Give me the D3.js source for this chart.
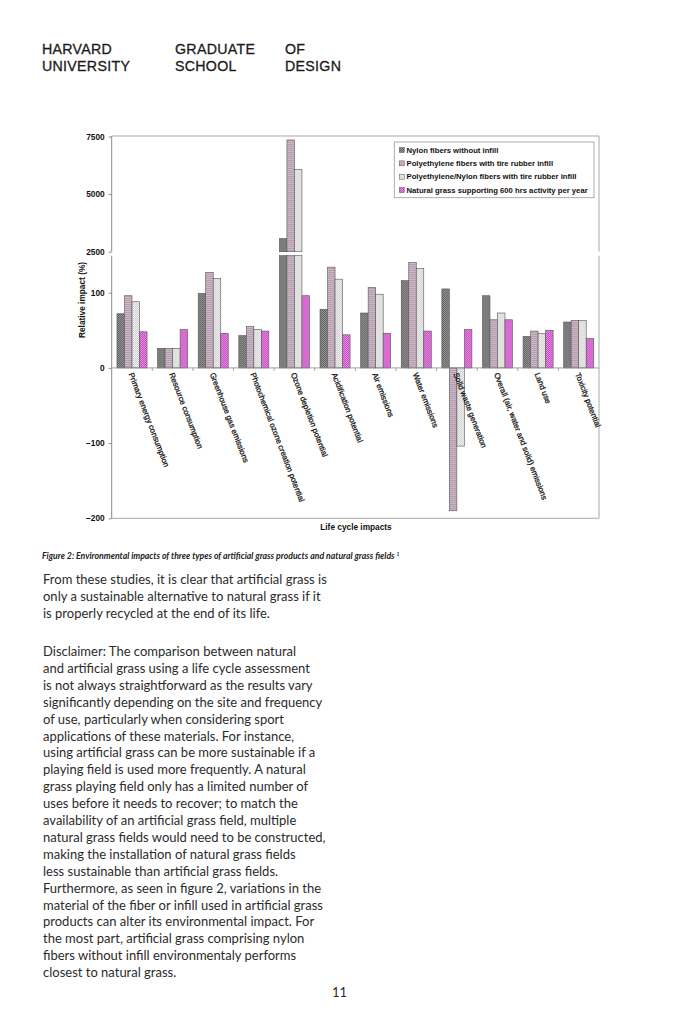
<!DOCTYPE html>
<html>
<head>
<meta charset="utf-8">
<script src="https://cdn.jsdelivr.net/npm/d3@7"></script>
<style>
  html, body { margin: 0; padding: 0; background: #fff; }
  svg { display: block; }
</style>
</head>
<body>
<svg id="page" width="682" height="1023"></svg>
<script>
// ---------------- data ----------------
const categories = [
  "Primary energy consumption",
  "Resource consumption",
  "Greenhouse gas emissions",
  "Photochemical ozone creation potential",
  "Ozone depletion potential",
  "Acidification potential",
  "Air emissions",
  "Water emissions",
  "Solid waste generation",
  "Overall (air, water and solid) emissions",
  "Land use",
  "Toxicity potential"
];
const seriesNames = [
  "Nylon fibers without infill",
  "Polyethylene fibers with tire rubber infill",
  "Polyethylene/Nylon fibers with tire rubber infill",
  "Natural grass supporting 600 hrs activity per year"
];
const nylonValues   = [72, 26, 99, 43, 3070, 78, 73, 116, 105, 96, 42, 61];
const peValues      = [96, 26, 127, 55, 7350, 134, 107, 140, -190, 64, 49, 63];
const peNylonValues = [88, 26, 119, 51, 6070, 118, 98, 132, -104, 73, 46, 63];
const naturalValues = [48, 51, 46, 49, 96, 44, 46, 49, 51, 64, 50, 39];
const lowerTicks = [-200, -100, 0, 100];
const upperTicks = [2500, 5000, 7500];

const headerLines = [
  ["HARVARD", "GRADUATE", "OF"],
  ["UNIVERSITY", "SCHOOL", "DESIGN"]
];
const caption = "Figure 2: Environmental impacts of three types of artificial grass products and natural grass fields";
const para1 = [
  "From these studies, it is clear that artificial grass is",
  "only a sustainable alternative to natural grass if it",
  "is properly recycled at the end of its life."
];
const para2 = [
  "Disclaimer: The comparison between natural",
  "and artificial grass using a life cycle assessment",
  "is not always straightforward as the results vary",
  "significantly depending on the site and frequency",
  "of use, particularly when considering sport",
  "applications of these materials. For instance,",
  "using artificial grass can be more sustainable if a",
  "playing field is used more frequently. A natural",
  "grass playing field only has a limited number of",
  "uses before it needs to recover; to match the",
  "availability of an artificial grass field, multiple",
  "natural grass fields would need to be constructed,",
  "making the installation of natural grass fields",
  "less sustainable than artificial grass fields.",
  "Furthermore, as seen in figure 2, variations in the",
  "material of the fiber or infill used in artificial grass",
  "products can alter its environmental impact. For",
  "the most part, artificial grass comprising nylon",
  "fibers without infill environmentaly performs",
  "closest to natural grass."
];
const pageNumber = "11";

// ---------------- layout ----------------
const svg = d3.select("#page");
const seriesValues = [nylonValues, peValues, peNylonValues, naturalValues];
const data = categories.map((c, i) => ({cat: c, vals: seriesValues.map((s, k) => ({k, v: s[i]}))}));

// header
const hdr = svg.append("g").attr("font-family", "'Liberation Sans', Arial, sans-serif")
  .attr("font-size", 14.2).attr("fill", "#1b1b1b").attr("stroke", "#1b1b1b").attr("stroke-width", 0.3)
  .attr("letter-spacing", 0.3);
const colX = [42, 175, 285];
headerLines.forEach((line, r) => line.forEach((w, c) => {
  hdr.append("text").attr("x", colX[c]).attr("y", 54 + r * 16.7).text(w);
}));

// patterns
const defs = svg.append("defs");
function checker(id, a, b) {
  const p = defs.append("pattern").attr("id", id).attr("patternUnits", "userSpaceOnUse")
    .attr("width", 2).attr("height", 2);
  p.append("rect").attr("width", 2).attr("height", 2).attr("fill", a);
  p.append("rect").attr("width", 1).attr("height", 1).attr("fill", b);
  p.append("rect").attr("x", 1).attr("y", 1).attr("width", 1).attr("height", 1).attr("fill", b);
}
checker("pNylon", "#9a9a9a", "#5e5e5e");
checker("pPEN", "#f2f2f2", "#cfcfcf");
checker("pNat", "#e48ee0", "#cc48c6");
{
  const p = defs.append("pattern").attr("id", "pPE").attr("patternUnits", "userSpaceOnUse")
    .attr("width", 2).attr("height", 2);
  p.append("rect").attr("width", 2).attr("height", 2).attr("fill", "#cdb8c8");
  p.append("rect").attr("width", 2).attr("height", 1).attr("fill", "#b49db0");
}
const fills = ["url(#pNylon)", "url(#pPE)", "url(#pPEN)", "url(#pNat)"];

// plot geometry
const L = 111.7, R = 599, T = 136, B = 518.3;
const breakLow = 255.7, breakHigh = 251.7;
const yLow = d3.scaleLinear().domain([-200, 100]).range([B, 292.7]);
const lowMax = yLow.invert(breakLow);
const yHigh = d3.scaleLinear().domain([2500, 7500]).range([breakHigh, 136.5]);

const x0 = d3.scaleBand().domain(categories).range([L, R]).paddingInner(0.26).paddingOuter(0.13);
const x1 = d3.scaleBand().domain(d3.range(4)).range([0, x0.bandwidth()]);

const chart = svg.append("g").attr("font-family", "'Liberation Sans', Arial, sans-serif")
  .attr("font-weight", "bold").attr("fill", "#111");

// frame
const frameColor = "#a9a9a9";
chart.append("line").attr("x1", L).attr("x2", R).attr("y1", T).attr("y2", T).attr("stroke", frameColor);
chart.append("line").attr("x1", L).attr("x2", R).attr("y1", B).attr("y2", B).attr("stroke", frameColor);
chart.append("line").attr("x1", R).attr("x2", R).attr("y1", T).attr("y2", breakHigh).attr("stroke", frameColor);
chart.append("line").attr("x1", R).attr("x2", R).attr("y1", breakLow).attr("y2", B).attr("stroke", frameColor);

// bars
const groups = chart.selectAll("g.cat").data(data).join("g").attr("class", "cat")
  .attr("transform", d => `translate(${x0(d.cat)},0)`);
groups.selectAll("rect.low").data(d => d.vals).join("rect").attr("class", "low")
  .attr("x", d => x1(d.k)).attr("width", x1.bandwidth())
  .attr("y", d => Math.min(yLow(0), yLow(Math.min(d.v, lowMax))))
  .attr("height", d => Math.abs(yLow(Math.min(d.v, lowMax)) - yLow(0)))
  .attr("fill", d => fills[d.k]).attr("stroke", "#555").attr("stroke-width", 0.6);
groups.selectAll("rect.high").data(d => d.vals.filter(e => e.v > 2500)).join("rect").attr("class", "high")
  .attr("x", d => x1(d.k)).attr("width", x1.bandwidth())
  .attr("y", d => yHigh(d.v))
  .attr("height", d => yHigh(2500) - yHigh(d.v))
  .attr("fill", d => fills[d.k]).attr("stroke", "#555").attr("stroke-width", 0.6);

// zero line & category ticks
chart.append("line").attr("x1", L).attr("x2", R).attr("y1", yLow(0)).attr("y2", yLow(0))
  .attr("stroke", "#8a8a8a").attr("stroke-width", 0.8);
categories.forEach((c, i) => {
  const bx = x0(c) + x0.bandwidth() / 2 + x0.step() / 2;
  if (i < categories.length - 1)
    chart.append("line").attr("x1", bx).attr("x2", bx).attr("y1", yLow(0)).attr("y2", yLow(0) + 3)
      .attr("stroke", "#8a8a8a").attr("stroke-width", 0.8);
});

// y axes
function styleAxis(g) {
  g.select(".domain").remove();
  g.selectAll(".tick line").attr("stroke", "#8a8a8a");
  g.selectAll(".tick text").attr("font-family", "'Liberation Sans', Arial, sans-serif")
    .attr("font-weight", "bold").attr("font-size", 8.3).attr("fill", "#111");
}
chart.append("g").attr("transform", `translate(${L},0)`)
  .call(d3.axisLeft(yLow).tickValues(lowerTicks).tickSize(3).tickPadding(4).tickFormat(d3.format("d")))
  .call(styleAxis);
chart.append("g").attr("transform", `translate(${L},0)`)
  .call(d3.axisLeft(yHigh).tickValues(upperTicks).tickSize(3).tickPadding(4).tickFormat(d3.format("d")))
  .call(styleAxis);
chart.append("line").attr("x1", L).attr("x2", L).attr("y1", T).attr("y2", breakHigh).attr("stroke", "#8a8a8a");
chart.append("line").attr("x1", L).attr("x2", L).attr("y1", breakLow).attr("y2", B).attr("stroke", "#8a8a8a");

// category labels
chart.selectAll("text.catlab").data(categories).join("text").attr("class", "catlab")
  .attr("transform", c => `translate(${x0(c) + x0.bandwidth() / 2 - 1},${yLow(0) + 5}) rotate(69)`)
  .attr("dy", "0.35em").attr("font-size", 7.9).attr("font-weight", "normal")
  .attr("stroke", "#111").attr("stroke-width", 0.25)
  .attr("text-anchor", "start").text(c => c);

// axis titles
chart.append("text").attr("transform", `translate(85,300) rotate(-90)`).attr("text-anchor", "middle")
  .attr("font-size", 8.3).text("Relative impact (%)");
chart.append("text").attr("x", 356).attr("y", 530).attr("text-anchor", "middle")
  .attr("font-size", 8.3).text("Life cycle impacts");

// legend
const lg = chart.append("g");
lg.append("rect").attr("x", 394.3).attr("y", 142).attr("width", 199.7).attr("height", 55.7)
  .attr("fill", "#fff").attr("stroke", "#9a9a9a").attr("stroke-width", 0.8);
seriesNames.forEach((s, k) => {
  const cy = 150 + k * 13.35;
  lg.append("rect").attr("x", 399.3).attr("y", cy - 2.5).attr("width", 5).attr("height", 5)
    .attr("fill", fills[k]).attr("stroke", "#555").attr("stroke-width", 0.5);
  lg.append("text").attr("x", 406.5).attr("y", cy).attr("dy", "0.35em").attr("font-size", 7.7)
    .style("font-variant-ligatures", "none").text(s);
});

// caption
const cap = svg.append("text").attr("x", 42).attr("y", 558.5)
  .attr("font-family", "Lato, 'Open Sans', sans-serif").attr("font-style", "italic").attr("font-weight", "bold")
  .attr("font-size", 8.7).attr("fill", "#222");
cap.append("tspan").text(caption + " ");
cap.append("tspan").attr("font-size", 5).attr("dy", -3).text("1");

// body
const body = svg.append("g").attr("font-family", "Lato, 'Open Sans', sans-serif")
  .attr("font-size", 13).attr("fill", "#2b2b2b");
para1.forEach((t, i) => body.append("text").attr("x", 43).attr("y", 583.5 + i * 17).text(t));
para2.forEach((t, i) => body.append("text").attr("x", 43).attr("y", 656 + i * 16.9).text(t));
body.append("text").attr("x", 332).attr("y", 997).text(pageNumber);
</script>
</body>
</html>
